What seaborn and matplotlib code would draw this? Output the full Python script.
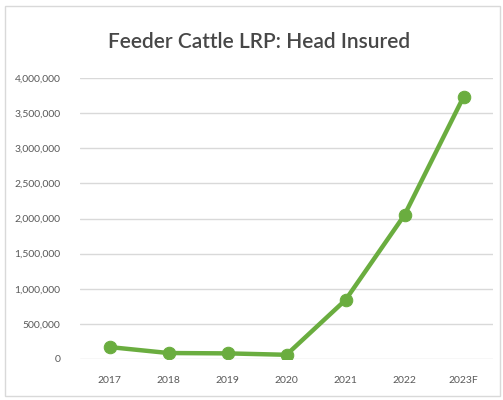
import pandas as pd
import matplotlib.pyplot as plt
import seaborn as sns
from matplotlib.ticker import FuncFormatter

sns.set_style("white")
plt.rcParams['font.family'] = ['Lato', 'DejaVu Sans']

# Datos
years = ["2017", "2018", "2019", "2020", "2021", "2022", "2023F"]
head_insured = [170000, 85000, 80000, 60000, 840000, 2050000, 3730000]

df = pd.DataFrame({"Year": years, "Head": head_insured})

fig = plt.figure(figsize=(5.03, 4.0), dpi=100)
ax = fig.add_axes([80 / 503, 41 / 400, 413 / 503, 281 / 400])

sns.lineplot(data=df, x="Year", y="Head", ax=ax, sort=False, color="#6aad3f",
             linewidth=3.2, marker="o", markersize=9, markeredgecolor="#6aad3f")

ax.set_ylim(0, 4000000)
ax.set_xlim(-0.5, len(years) - 0.5)
ax.set_yticks(range(0, 4000001, 500000))
ax.yaxis.set_major_formatter(FuncFormatter(lambda v, p: f"{int(v):,}"))
ax.grid(axis="y", color="#d9d9d9", linewidth=1)
ax.set_axisbelow(True)
for s in ax.spines.values():
    s.set_visible(False)
ax.tick_params(axis="both", length=0, labelsize=7.5, labelcolor="#595959")
ax.tick_params(axis="x", pad=12)
ax.tick_params(axis="y", pad=14)
ax.set_xlabel("")
ax.set_ylabel("")

fig.text(0.515, 0.895, "Feeder Cattle LRP: Head Insured", ha="center", va="center",
         fontsize=15, fontweight="semibold", color="#474747")

# Borde del gráfico
fig.patches.append(plt.Rectangle((0.01, 0.01), 0.985, 0.975, transform=fig.transFigure,
                                 fill=False, edgecolor="#d9d9d9", linewidth=1))

plt.savefig("out.png", dpi=100)
plt.close()
